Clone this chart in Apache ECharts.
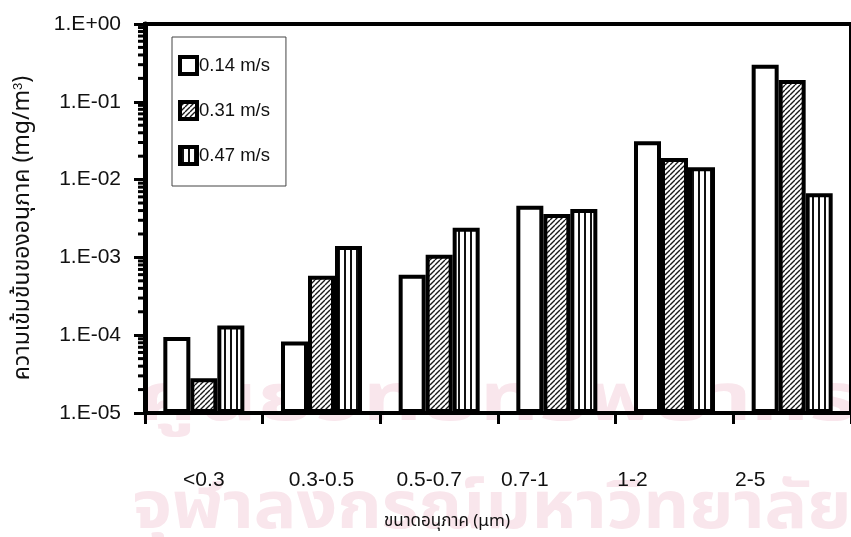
<!DOCTYPE html>
<html>
<head>
<meta charset="utf-8">
<script src="https://cdn.jsdelivr.net/npm/echarts@6/dist/echarts.min.js"></script>
<style>
  html, body { margin: 0; padding: 0; background: #fff; }
  #chart { width: 851px; height: 537px; }
</style>
</head>
<body>
<div id="chart"></div>
<script>
// Particle size classes (µm) and mass concentration (mg/m3) per air velocity
const categories = ['<0.3', '0.3-0.5', '0.5-0.7', '0.7-1', '1-2', '2-5'];
const seriesNames = ['0.14 m/s', '0.31 m/s', '0.47 m/s'];
const conc014 = [9.5e-5, 8.3e-5, 6.0e-4, 4.6e-3, 3.1e-2, 0.30];
const conc031 = [2.8e-5, 5.8e-4, 1.08e-3, 3.6e-3, 1.9e-2, 0.19];
const conc047 = [1.33e-4, 1.4e-3, 2.4e-3, 4.2e-3, 1.44e-2, 6.7e-3];
const yMin = 1e-5;
const yMax = 1;
const minorSteps = [2, 3, 4, 5, 6, 7, 8, 9];

// horizontal nudge (px) of each category label
const labelShift = [0, 0, -10, -32, -42, -42];

const FONT = '"Liberation Sans", Arial, sans-serif';
const THAI_FONT = '"Noto Sans Thai", "Noto Sans", "DejaVu Sans", sans-serif';

// fill patterns: plain, diagonal hatch, vertical stripes
function hatchFill() {
  const s = 5;
  const c = document.createElement('canvas');
  c.width = s; c.height = s;
  const g = c.getContext('2d');
  g.fillStyle = '#fff';
  g.fillRect(0, 0, s, s);
  g.strokeStyle = '#1a1a1a';
  g.lineWidth = 1.4;
  g.beginPath();
  for (let k = -1; k <= 1; k++) {
    g.moveTo(k * s, s);
    g.lineTo(k * s + s, 0);
  }
  g.stroke();
  return { image: c, repeat: 'repeat' };
}
function stripeFill() {
  const c = document.createElement('canvas');
  c.width = 6; c.height = 4;
  const g = c.getContext('2d');
  g.fillStyle = '#fff';
  g.fillRect(0, 0, 6, 4);
  g.fillStyle = '#111';
  g.fillRect(2, 0, 2, 4);
  return { image: c, repeat: 'repeat' };
}

const fills = ['#ffffff', hatchFill(), stripeFill()];
const values = [conc014, conc031, conc047];

// minor log ticks 2..9 within each decade
const minorTicks = [];
for (let e = Math.round(Math.log10(yMin)); e < Math.round(Math.log10(yMax)); e++) {
  minorSteps.forEach(m => minorTicks.push([0, m * Math.pow(10, e)]));
}

function expLabel(v) {
  const e = Math.round(Math.log10(v));
  const a = Math.abs(e);
  return '1.E' + (e < 0 ? '-' : '+') + (a < 10 ? '0' : '') + a;
}

const chart = echarts.init(document.getElementById('chart'), null, { renderer: 'canvas' });

const option = {
  backgroundColor: '#fff',
  animation: false,
  grid: {
    left: 145, top: 24, right: -5, bottom: 124,
    show: true, borderColor: '#000', borderWidth: 4, backgroundColor: 'transparent'
  },
  legend: {
    left: 172, top: 37,
    orient: 'vertical',
    data: seriesNames,
    icon: 'rect',
    itemWidth: 17, itemHeight: 17, itemGap: 24,
    padding: [18, 16, 20, 6],
    borderColor: '#444', borderWidth: 1,
    itemStyle: { borderColor: '#000', borderWidth: 4 },
    textStyle: { fontFamily: FONT, fontSize: 18.5, color: '#111', padding: [0, 0, 0, -3] }
  },
  xAxis: {
    type: 'category',
    data: categories.map((c, i) => ({
      value: c,
      textStyle: { padding: [0, Math.max(0, -labelShift[i] * 2), 0, Math.max(0, labelShift[i] * 2)] }
    })),
    axisLine: { lineStyle: { color: '#000', width: 3 } },
    axisTick: { show: true, length: 11, lineStyle: { color: '#000', width: 3 } },
    axisLabel: { fontFamily: FONT, fontSize: 21, color: '#111', margin: 57 },
    splitLine: { show: false }
  },
  yAxis: {
    type: 'log',
    logBase: 10,
    min: yMin, max: yMax,
    startValue: yMin,
    axisLine: { show: true, lineStyle: { color: '#000', width: 5 } },
    axisTick: { show: true, length: 11, lineStyle: { color: '#000', width: 3 } },
    axisLabel: { fontFamily: FONT, fontSize: 21, color: '#111', margin: 24, formatter: expLabel },
    splitLine: { show: false }
  },
  graphic: [
    // faint institutional watermark behind the plot
    {
      type: 'text', x: 497, y: 407, z: -10, silent: true, scaleX: 1.4,
      style: {
        text: 'ศูนย์วิทยทรัพยากร', align: 'center', verticalAlign: 'middle',
        fontFamily: THAI_FONT, fontSize: 66, fontWeight: 'bold', fill: '#f9e6ec'
      }
    },
    {
      type: 'text', x: 492, y: 515, z: -10, silent: true, scaleX: 1.08,
      style: {
        text: 'จุฬาลงกรณ์มหาวิทยาลัย', align: 'center', verticalAlign: 'middle',
        fontFamily: THAI_FONT, fontSize: 66, fontWeight: 'bold', fill: '#f9e6ec'
      }
    },
    {
      type: 'text', x: 24, y: 228, rotation: Math.PI / 2,
      style: {
        text: '{a|ความเข้มข้นของอนุภาค (mg/m}{b|3}{a|)}',
        align: 'center', verticalAlign: 'middle',
        rich: {
          a: { fontFamily: THAI_FONT, fontSize: 23, fill: '#111' },
          b: { fontFamily: FONT, fontSize: 13, fill: '#111', verticalAlign: 'top', padding: [0, 0, 12, 0] }
        }
      }
    },
    {
      type: 'text', x: 447, y: 523,
      style: {
        text: 'ขนาดอนุภาค (μm)',
        align: 'center', verticalAlign: 'middle',
        fontFamily: THAI_FONT, fontSize: 17, fill: '#111'
      }
    }
  ],
  series: seriesNames.map((name, i) => ({
    type: 'bar',
    name: name,
    data: values[i],
    barWidth: 27,
    barGap: '0%',
    itemStyle: { color: fills[i], borderColor: '#000', borderWidth: 4 }
  })).concat([{
    type: 'custom',
    name: 'minorTicks',
    silent: true,
    clip: false,
    data: minorTicks,
    encode: { x: 0, y: 1 },
    renderItem: function (params, api) {
      const y = api.coord([0, api.value(1)])[1];
      const x = params.coordSys.x;
      return {
        type: 'line',
        shape: { x1: x - 7, y1: y, x2: x, y2: y },
        style: { stroke: '#000', lineWidth: 3 }
      };
    }
  }])
};

chart.setOption(option);
</script>
</body>
</html>
